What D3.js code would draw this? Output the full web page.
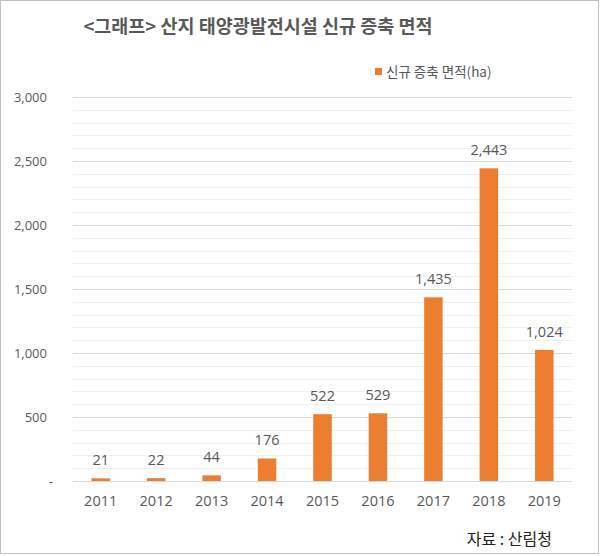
<!DOCTYPE html>
<html><head><meta charset="utf-8">
<script src="https://cdn.jsdelivr.net/npm/d3@7"></script>
<style>
html,body{margin:0;padding:0;background:#fff;}
svg{display:block;font-family:"Noto Sans CJK KR","Noto Sans",sans-serif;}
.num{font-family:"Open Sans","Noto Sans CJK KR",sans-serif;}
</style></head>
<body><svg id="c" width="600" height="556"></svg>
<script>
const years = ["2011","2012","2013","2014","2015","2016","2017","2018","2019"];
const areas = [21,22,44,176,522,529,1435,2443,1024];
const yTicks = [0,500,1000,1500,2000,2500,3000];
const titleText = "<그래프> 산지 태양광발전시설 신규 증축 면적";
const seriesName = "신규 증축 면적(ha)";
const sourceText = "자료 : 산림청";

const svg = d3.select("#c");
const W = 600, H = 556;
const m = {left:73, right:28, top:97, bottom:75};

svg.append("rect").attr("x",0.5).attr("y",0.5).attr("width",W-2).attr("height",H-3)
  .attr("fill","#fff").attr("stroke","#c0c0c0");

const x = d3.scaleBand().domain(years).range([m.left, W-m.right]).paddingInner(0.667).paddingOuter(0.333);
const y = d3.scaleLinear().domain([0,3000]).range([H-m.bottom, m.top]);

// minor gridlines
const minor = d3.range(100,3000,100).filter(v=>v%500!==0);
svg.append("g").selectAll("line").data(minor).join("line")
  .attr("x1",m.left).attr("x2",W-m.right)
  .attr("y1",d=>Math.round(y(d))+0.5).attr("y2",d=>Math.round(y(d))+0.5)
  .attr("stroke","#f0f0f0");

// major gridlines
svg.append("g").selectAll("line").data(yTicks).join("line")
  .attr("x1",m.left).attr("x2",W-m.right)
  .attr("y1",d=>Math.round(y(d))+0.5).attr("y2",d=>Math.round(y(d))+0.5)
  .attr("stroke","#d9d9d9");

// y axis labels
const yAxis = d3.axisLeft(y).tickValues(yTicks).tickSize(0).tickPadding(26)
  .tickFormat(d=> d===0 ? "-" : d3.format(",")(d));
const ya = svg.append("g").attr("transform",`translate(${m.left},0)`).call(yAxis);
ya.select(".domain").remove();
ya.selectAll("text").attr("class","num").attr("fill","#595959").style("font-size","13px")
  .attr("dx", d=> d===0 ? "6" : "0");

// x axis labels
const xAxis = d3.axisBottom(x).tickSize(0).tickPadding(15);
const xa = svg.append("g").attr("transform",`translate(0,${H-m.bottom})`).call(xAxis);
xa.select(".domain").remove();
xa.selectAll("text").attr("class","num").attr("fill","#595959").style("font-size","14.5px");

// bars
svg.append("g").selectAll("rect").data(areas).join("rect")
  .attr("x",(d,i)=>x(years[i])).attr("width",x.bandwidth())
  .attr("y",d=>y(d)).attr("height",d=>y(0)-y(d))
  .attr("fill","#ED7D31");

// value labels
svg.append("g").selectAll("text").data(areas).join("text")
  .attr("class","num")
  .attr("x",(d,i)=>x(years[i])+x.bandwidth()/2)
  .attr("y",d=>y(d)-13)
  .attr("text-anchor","middle").attr("fill","#595959")
  .style("font-size","14.5px")
  .text(d=>d3.format(",")(d));

// title
svg.append("text").attr("x",258).attr("y",33).attr("text-anchor","middle")
  .attr("fill","#595959").style("font-size","18.5px").style("font-weight","bold")
  .text(titleText);

// legend
svg.append("rect").attr("x",375).attr("y",68).attr("width",7).attr("height",7).attr("fill","#ED7D31");
svg.append("text").attr("x",386).attr("y",77).attr("fill","#595959").style("font-size","13.5px").text(seriesName);

// source
svg.append("text").attr("x",552).attr("y",545).attr("text-anchor","end")
  .attr("fill","#222").style("font-size","16px").text(sourceText);
</script></body></html>
